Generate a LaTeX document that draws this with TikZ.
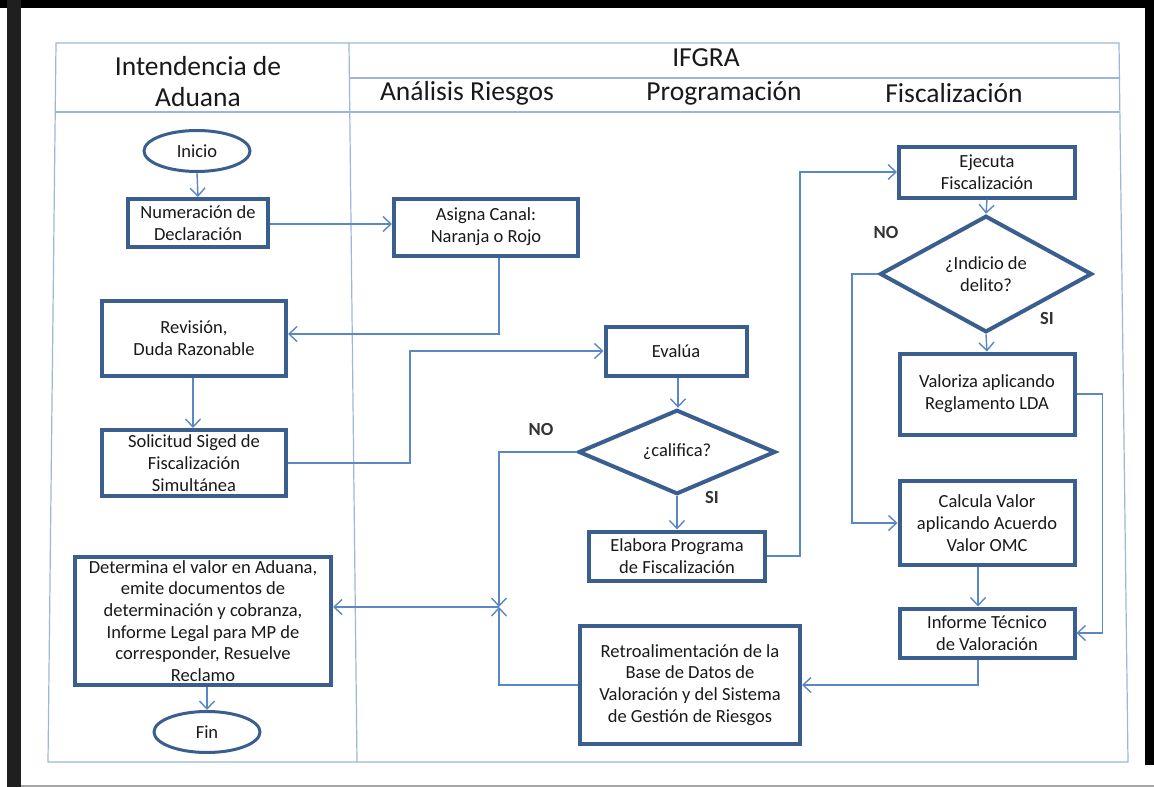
\documentclass[tikz,border=0pt]{standalone}
\usepackage{fontspec}
\setmainfont{Carlito}
\usetikzlibrary{arrows.meta,shapes.geometric}
\definecolor{boxblue}{HTML}{3A5F8F}
\definecolor{linkblue}{HTML}{5B87C5}
\definecolor{gridblue}{HTML}{9DB6DC}
\begin{document}
\begin{tikzpicture}[x=1pt,y=-1pt,
  every node/.style={font=\fontsize{18.5}{21.7}\selectfont, text=black!90},
  proc/.style={draw=boxblue, line width=4pt, fill=white, align=center,
               inner sep=0pt, rectangle},
  term/.style={draw=boxblue, line width=3pt, fill=white, ellipse,
               inner sep=0pt, minimum width=106pt, minimum height=41pt},
  decide/.style={draw=boxblue, line width=4pt, fill=white, diamond,
                 align=center, inner sep=0pt},
  conn/.style={draw=linkblue, line width=1.4pt,
               -{Straight Barb[length=8pt,width=15pt,line width=1.4pt]}},
  lane/.style={draw=gridblue, line width=1.2pt},
  head/.style={font=\fontsize{27.5}{31}\selectfont, align=center},
  answer/.style={font=\fontsize{18.5}{21.7}\selectfont\bfseries, text=black!80}
]
\useasboundingbox (0,0) rectangle (1154,787);
\fill[white] (0,0) rectangle (1154,787);

% window edges
\fill[black] (0,0) rectangle (1154,8);
\fill[black!88] (7,0) rectangle (21,787);
\fill[black] (1145,0) rectangle (1154,765);
\draw[black!35, line width=1.5pt] (21,786) -- (1154,786);

% swimlane grid
\draw[lane] (56,43) -- (1119,43) -- (1128,762) -- (48,762) -- cycle;
\draw[lane] (349,43) -- (357,762);
\draw[lane] (349,78) -- (1119.4,78);
\draw[lane] (55.6,112) -- (1120,112);

% lane headers
\node[head] (hAduana) at (198,82) {Intendencia de\\Aduana};
\node[head] (hIfgra) at (706,58) {IFGRA};
\node[head] (hRiesgo) at (467,93) {Análisis Riesgos};
\node[head] (hProg) at (724,93) {Programación};
\node[head] (hFisc) at (954,93) {Fiscalización};

% steps
\node[term] (ini) at (197,151) {Inicio};
\node[proc, minimum width=140pt, minimum height=48pt] (num) at (198,223) {Numeración de\\Declaración};
\node[proc, minimum width=184pt, minimum height=57pt] (asig) at (486,227) {Asigna Canal:\\Naranja o Rojo};
\node[proc, minimum width=184pt, minimum height=75pt] (rev) at (194,338) {Revisión,\\Duda Razonable};
\node[proc, minimum width=184pt, minimum height=66pt] (sol) at (194,463) {Solicitud Siged de\\Fiscalización\\Simultánea};
\node[proc, minimum width=141pt, minimum height=49pt] (eva) at (676,351) {Evalúa};
\node[decide, minimum width=197pt, minimum height=64pt] (cal) at (677,452) {¿califica?};
\node[proc, minimum width=176pt, minimum height=49pt] (ela) at (677,556) {Elabora Programa\\de Fiscalización};
\node[proc, minimum width=176pt, minimum height=51pt] (eje) at (987,172) {Ejecuta\\Fiscalización};
\node[decide, minimum width=212pt, minimum height=83pt] (ind) at (986,274) {¿Indicio de\\delito?};
\node[proc, minimum width=175pt, minimum height=81pt] (val) at (987,394) {Valoriza aplicando\\Reglamento LDA};
\node[proc, minimum width=175pt, minimum height=84pt] (calc) at (987,523) {Calcula Valor\\aplicando Acuerdo\\Valor OMC};
\node[proc, minimum width=175pt, minimum height=49pt] (inf) at (987,633) {Informe Técnico\\de Valoración};
\node[proc, minimum width=220pt, minimum height=118pt] (ret) at (690,685) {Retroalimentación de la\\Base de Datos de\\Valoración y del Sistema\\de Gestión de Riesgos};
\node[proc, minimum width=256pt, minimum height=128pt] (det) at (203,621) {Determina el valor en Aduana,\\emite documentos de\\determinación y cobranza,\\Informe Legal para MP de\\corresponder, Resuelve\\Reclamo};
\node[term] (fin) at (207,732) {Fin};

% decision labels
\node[answer] (no1) at (541,429) {NO};
\node[answer] (si1) at (712,497) {SI};
\node[answer] (no2) at (886,232) {NO};
\node[answer] (si2) at (1047,318) {SI};

% connectors
\coordinate (jn) at (499,607);
\draw[conn] (ini.south) -- (num.north);
\draw[conn] ([yshift=-1pt]num.east) -- ([yshift=-1pt]num.east -| asig.west);
\draw[conn] ([xshift=13pt]asig.south) |- ([yshift=4pt]rev.east);
\draw[conn] ([xshift=-1pt]rev.south) -- ([xshift=-1pt]sol.north);
\draw[conn] (sol.east) -- ++(122,0) |- (eva.west);
\draw[conn] ([xshift=2pt]eva.south) -- ([xshift=1pt]cal.north);
\draw[conn] (cal.south) -- (ela.north);
\draw[conn] (ela.east) -- ++(33,0) |- (eje.west);
\draw[conn] (eje.south) -- (ind.north);
\draw[conn] (ind.west) -- ++(-26,0) |- (calc.west);
\draw[conn] (ind.south) -- (val.north);
\draw[conn] (val.east) -- ++(26,0) |- (inf.east);
\draw[conn] ([xshift=-9pt]calc.south) -- ([xshift=-9pt]inf.north);
\draw[conn] ([xshift=-9pt]inf.south) |- (ret.east);
\draw[conn] (cal.west) -| (jn);
\draw[conn] (ret.west) -| (jn);
\draw[conn] (jn) -- (det.east |- jn);
\draw[conn] (det.south -| fin.north) -- (fin.north);
\end{tikzpicture}
\end{document}
